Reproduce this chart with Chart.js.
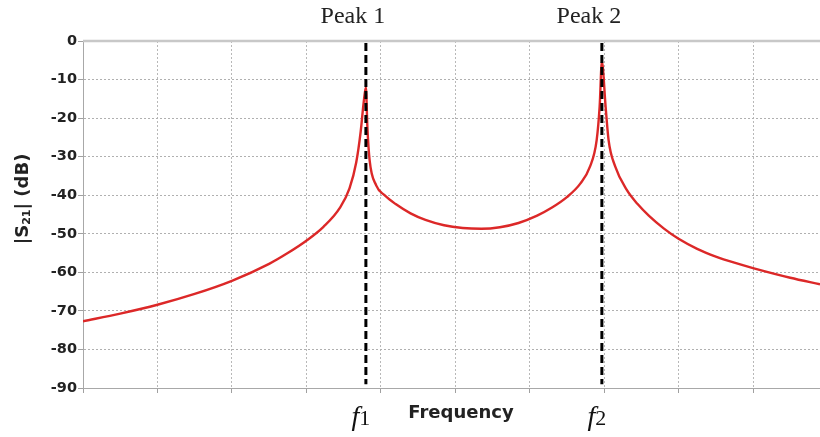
<!DOCTYPE html>
<html>
<head>
<meta charset="utf-8">
<script src="https://cdn.jsdelivr.net/npm/chart.js@4.4.1/dist/chart.umd.min.js"></script>
<style>
  html, body { margin: 0; padding: 0; background: #fff; }
  #wrap { width: 820px; height: 437px; }
</style>
</head>
<body>
<div id="wrap"><canvas id="s21-chart" width="820" height="437"></canvas></div>
<script>
// frequency in grid units (no numeric labels in the original), |S21| in dB
const freq = [0.00, 0.50, 1.00, 1.50, 2.00, 2.50, 2.75, 3.00, 3.23, 3.45, 3.58, 3.67, 3.73, 3.77, 3.80,
  3.82, 3.85, 3.94, 4.05, 4.20, 4.40, 4.60, 4.85, 5.10, 5.35, 5.60, 5.85, 6.10, 6.30, 6.50, 6.68, 6.81, 6.90, 6.94, 6.97,
  7.02, 7.06, 7.15, 7.30, 7.45, 7.60, 7.80, 8.00, 8.25, 8.50, 8.75, 9.00, 9.50, 9.90];
const s21 = [-72.7, -70.7, -68.4, -65.6, -62.2, -57.8, -55.0, -51.8, -48.2, -43.3, -38.2, -31.5, -23.5, -16.0, -12.0,
  -22.3, -30.9, -37.5, -40.0, -42.3, -44.7, -46.4, -47.8, -48.5, -48.7, -48.3, -47.2, -45.3, -43.2, -40.5, -37.0, -32.6, -25.7, -17.0, -5.4,
  -17.0, -25.7, -32.6, -38.5, -42.3, -45.3, -48.6, -51.3, -53.9, -55.9, -57.5, -58.9, -61.4, -63.1];

const peakFreqs = [3.80, 6.97];
const peakTitles = ["Peak 1", "Peak 2"];
const peakSubs = ["1", "2"];
const markerTop = -0.5;
const markerBottom = -89;

const yMin = -90;
const yMax = 0;
const yStep = 10;
const xMin = 0;
const xMax = 9.9;

function drawYTitle(ctx, x, y) {
  const main = "bold 18px 'DejaVu Sans'";
  const sub = "bold 11px 'DejaVu Sans'";
  const parts = [["|S", main, 0], ["21", sub, 4], ["| (dB)", main, 0]];
  let total = 0;
  parts.forEach(p => { ctx.font = p[1]; total += ctx.measureText(p[0]).width; });
  ctx.save();
  ctx.translate(x, y);
  ctx.rotate(-Math.PI / 2);
  ctx.textBaseline = "middle";
  ctx.textAlign = "left";
  ctx.fillStyle = "#222";
  let pos = -total / 2;
  parts.forEach(p => {
    ctx.font = p[1];
    ctx.fillText(p[0], pos, p[2]);
    pos += ctx.measureText(p[0]).width;
  });
  ctx.restore();
}

function drawFLabel(ctx, cx, baseline, sub) {
  ctx.save();
  ctx.fillStyle = "#111";
  ctx.textBaseline = "alphabetic";
  ctx.textAlign = "left";
  ctx.font = "italic 28px 'Liberation Serif'";
  const fw = ctx.measureText("f").width;
  ctx.font = "22px 'Liberation Serif'";
  const sw = ctx.measureText(sub).width;
  const start = cx - (fw + sw) / 2;
  ctx.font = "italic 28px 'Liberation Serif'";
  ctx.fillText("f", start, baseline);
  ctx.font = "22px 'Liberation Serif'";
  ctx.fillText(sub, start + fw, baseline);
  ctx.restore();
}

const labelsPlugin = {
  id: "labels",
  afterDraw(chart) {
    const ctx = chart.ctx;
    const area = chart.chartArea;
    const xs = chart.scales.x;

    // top frame line
    ctx.save();
    ctx.strokeStyle = "#c8c8c8";
    ctx.lineWidth = 2.5;
    ctx.beginPath();
    ctx.moveTo(area.left, area.top);
    ctx.lineTo(area.right, area.top);
    ctx.stroke();
    ctx.restore();

    ctx.save();
    ctx.fillStyle = "#222";
    ctx.font = "24px 'Liberation Serif'";
    ctx.textAlign = "center";
    ctx.textBaseline = "alphabetic";
    peakFreqs.forEach((f, i) => {
      ctx.fillText(peakTitles[i], xs.getPixelForValue(f) - 13, 23);
    });

    ctx.font = "bold 18px 'DejaVu Sans'";
    ctx.fillText("Frequency", 461, 418);
    ctx.restore();

    peakFreqs.forEach((f, i) => {
      drawFLabel(ctx, xs.getPixelForValue(f) - 5, 425, peakSubs[i]);
    });

    drawYTitle(ctx, 23, 199);
  }
};

const markerSets = peakFreqs.map(f => ({
  data: [{ x: f, y: markerTop }, { x: f, y: markerBottom }],
  borderColor: "#000",
  borderWidth: 3,
  borderDash: [8, 4],
  pointRadius: 0,
  fill: false
}));

const curve = {
  data: freq.map((f, i) => ({ x: f, y: s21[i] })),
  borderColor: "#dc2828",
  borderWidth: 2.4,
  pointRadius: 0,
  fill: false,
  cubicInterpolationMode: "monotone"
};

new Chart(document.getElementById("s21-chart").getContext("2d"), {
  type: "line",
  data: { datasets: [...markerSets, curve] },
  options: {
    responsive: false,
    animation: false,
    devicePixelRatio: 1,
    layout: { padding: { top: 41, left: 0, right: 0, bottom: 0 } },
    plugins: { legend: { display: false }, tooltip: { enabled: false } },
    scales: {
      x: {
        type: "linear",
        min: xMin,
        max: xMax,
        afterFit: (scale) => { scale.height = 49; },
        ticks: { display: false, stepSize: 1, includeBounds: false },
        grid: { color: "#b8b8b8", tickLength: 5, tickColor: "#a0a0a0" },
        border: { color: "#a8a8a8", width: 1, dash: [2, 2] }
      },
      y: {
        min: yMin,
        max: yMax,
        afterFit: (scale) => { scale.width = 83; },
        ticks: {
          stepSize: yStep,
          color: "#222",
          padding: 1,
          font: { family: "'DejaVu Sans'", weight: "bold", size: 14.5 }
        },
        grid: { color: "#b0b0b0", tickLength: 5, tickColor: "#a0a0a0" },
        border: { color: "#a8a8a8", width: 1, dash: [2, 2] }
      }
    }
  },
  plugins: [labelsPlugin]
});
</script>
</body>
</html>
